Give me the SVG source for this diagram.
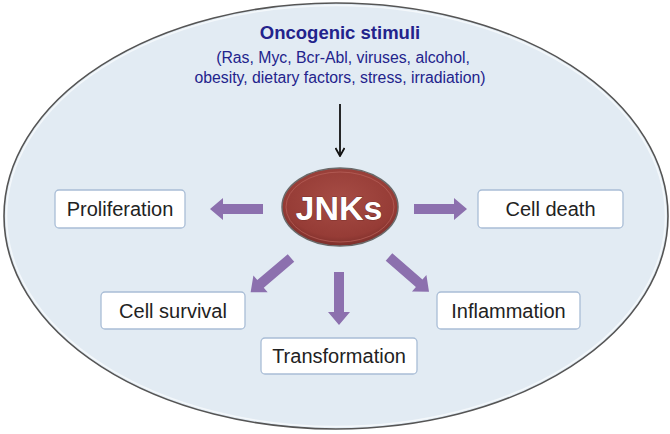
<svg xmlns="http://www.w3.org/2000/svg" width="670" height="434" viewBox="0 0 670 434">
  <defs>
    <style>
      .box { fill: #ffffff; stroke: #a9bdd6; stroke-width: 1.3; }
      .lbl { font-family: "Liberation Sans", Arial, sans-serif; font-size: 20px; fill: #222222; text-anchor: middle; }
      .stim { font-family: "Liberation Sans", Arial, sans-serif; fill: #23238c; text-anchor: middle; }
      .jnk { font-family: "Liberation Sans", Arial, sans-serif; font-size: 34px; font-weight: bold; fill: #ffffff; text-anchor: middle; stroke: #5a1f1c; stroke-width: 0.7px; paint-order: stroke; }
      .parr { fill: #8c70ae; }
    </style>
    <radialGradient id="jnkGrad" cx="50%" cy="40%" r="60%">
      <stop offset="0%" stop-color="#a64c45"/>
      <stop offset="80%" stop-color="#963c36"/>
      <stop offset="100%" stop-color="#7c2e2a"/>
    </radialGradient>
    <marker id="blackHead" viewBox="0 0 10 10" refX="9" refY="5" markerWidth="10" markerHeight="10" markerUnits="userSpaceOnUse" orient="auto">
      <path d="M1,0.5 L9,5 L1,9.5" fill="none" stroke="#111111" stroke-width="1.8"/>
    </marker>
    <path id="blockArrow" d="M0,-5 L40,-5 L40,-11 L53,0 L40,11 L40,5 L0,5 Z"/>
  </defs>

  <rect width="670" height="434" fill="#ffffff"/>

  <g id="background">
    <ellipse cx="336" cy="216" rx="332" ry="213" fill="#e2ebf3" stroke="#555555" stroke-width="1.6"/>
    <ellipse cx="336" cy="216" rx="329.5" ry="210.5" fill="none" stroke="#f4f8fb" stroke-width="1.5"/>
  </g>

  <g id="stimuli">
    <text class="stim" x="340" y="39" font-size="18.5" font-weight="bold">Oncogenic stimuli</text>
    <text class="stim" x="343" y="63" font-size="15.8">(Ras, Myc, Bcr-Abl, viruses, alcohol,</text>
    <text class="stim" x="340" y="83" font-size="15.8">obesity, dietary factors, stress, irradiation)</text>
  </g>

  <g id="connectors">
    <line x1="340" y1="104" x2="340" y2="156" stroke="#111111" stroke-width="1.8" marker-end="url(#blackHead)"/>
    <use href="#blockArrow" class="parr" transform="translate(263,209) rotate(180)"/>
    <use href="#blockArrow" class="parr" transform="translate(414,209)"/>
    <use href="#blockArrow" class="parr" transform="translate(339,272) rotate(90)"/>
    <use href="#blockArrow" class="parr" transform="translate(291,258) rotate(139.6)"/>
    <use href="#blockArrow" class="parr" transform="translate(389,257) rotate(41)"/>
  </g>

  <g id="jnks">
    <ellipse cx="340" cy="207" rx="58" ry="39" fill="url(#jnkGrad)" stroke="#6a6a6a" stroke-width="1.5"/>
    <ellipse cx="340" cy="207" rx="54" ry="35" fill="none" stroke="#b9625b" stroke-width="1" opacity="0.7"/>
    <text class="jnk" x="339" y="220">JNKs</text>
  </g>

  <g id="proliferation">
    <rect class="box" x="55" y="190" width="130" height="38" rx="4"/>
    <text class="lbl" x="120" y="216">Proliferation</text>
  </g>

  <g id="cell-death">
    <rect class="box" x="478" y="190" width="145" height="38" rx="4"/>
    <text class="lbl" x="550.5" y="216">Cell death</text>
  </g>

  <g id="cell-survival">
    <rect class="box" x="101" y="292" width="144" height="37" rx="4"/>
    <text class="lbl" x="173" y="318">Cell survival</text>
  </g>

  <g id="transformation">
    <rect class="box" x="261" y="338" width="156" height="36" rx="4"/>
    <text class="lbl" x="339" y="363">Transformation</text>
  </g>

  <g id="inflammation">
    <rect class="box" x="437" y="292" width="143" height="37" rx="4"/>
    <text class="lbl" x="508.5" y="318">Inflammation</text>
  </g>
</svg>
